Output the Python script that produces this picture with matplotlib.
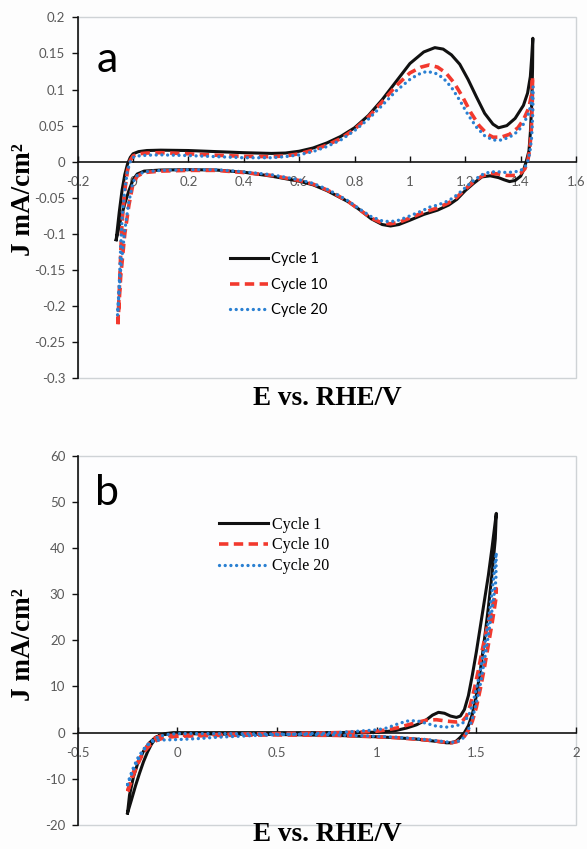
import matplotlib.pyplot as plt
from matplotlib.patches import Rectangle

# ---- panel a : CV in the low current range (mA/cm2) ----
a_e1 = [-0.061, -0.050, -0.040, -0.030, -0.020, -0.010, 0.0, 0.02, 0.05, 0.1, 0.2, 0.3, 0.4, 0.5,
        0.55, 0.6, 0.65, 0.7, 0.75, 0.8, 0.85, 0.9, 0.95, 1.0, 1.05, 1.09, 1.12, 1.15, 1.18, 1.21,
        1.24, 1.27, 1.30, 1.32, 1.35, 1.38, 1.41, 1.425, 1.435, 1.44, 1.444,
        1.443, 1.44, 1.435, 1.43, 1.42, 1.41, 1.40, 1.38, 1.36, 1.34, 1.32, 1.29, 1.26, 1.23, 1.2,
        1.17, 1.14, 1.1, 1.05, 1.0, 0.96, 0.93, 0.9, 0.86, 0.82, 0.78, 0.74, 0.7, 0.65, 0.6, 0.5,
        0.4, 0.3, 0.2, 0.1, 0.04, 0.015, 0.0, -0.015, -0.03, -0.045, -0.061]
a_j1 = [-0.108, -0.07, -0.04, -0.018, -0.003, 0.006, 0.011, 0.014, 0.0155, 0.016, 0.0155, 0.014,
        0.0125, 0.0115, 0.012, 0.0145, 0.019, 0.026, 0.035, 0.047, 0.064, 0.086, 0.111, 0.136,
        0.152, 0.158, 0.156, 0.148, 0.135, 0.114, 0.090, 0.067, 0.052, 0.047, 0.050, 0.060, 0.078,
        0.095, 0.118, 0.145, 0.171,
        0.13, 0.08, 0.04, 0.015, 0.0, -0.012, -0.02, -0.026, -0.0275, -0.025, -0.022, -0.0195,
        -0.021, -0.03, -0.04, -0.052, -0.06, -0.067, -0.073, -0.081, -0.087, -0.089, -0.087,
        -0.079, -0.067, -0.056, -0.048, -0.040, -0.032, -0.027, -0.02, -0.0145, -0.0115, -0.011,
        -0.0115, -0.013, -0.017, -0.025, -0.04, -0.058, -0.08, -0.108]

a_e10 = [-0.055, -0.05, -0.045, -0.04, -0.03, -0.02, -0.01, 0.0, 0.02, 0.05, 0.1, 0.2, 0.3, 0.4,
         0.5, 0.55, 0.6, 0.65, 0.7, 0.75, 0.8, 0.85, 0.9, 0.95, 1.0, 1.04, 1.07, 1.1, 1.13, 1.16,
         1.19, 1.22, 1.25, 1.28, 1.30, 1.33, 1.36, 1.39, 1.41, 1.43, 1.44, 1.443,
         1.442, 1.438, 1.432, 1.425, 1.415, 1.40, 1.38, 1.35, 1.32, 1.29, 1.26, 1.23, 1.2, 1.17,
         1.14, 1.1, 1.05, 1.0, 0.96, 0.93, 0.9, 0.86, 0.82, 0.78, 0.74, 0.7, 0.65, 0.6, 0.5, 0.4,
         0.3, 0.2, 0.1, 0.04, 0.015, 0.0, -0.015, -0.03, -0.045, -0.055]
a_j10 = [-0.225, -0.18, -0.13, -0.085, -0.04, -0.012, 0.002, 0.008, 0.011, 0.012, 0.0125, 0.011,
         0.009, 0.0075, 0.007, 0.008, 0.011, 0.016, 0.023, 0.032, 0.045, 0.062, 0.083, 0.105,
         0.123, 0.131, 0.134, 0.131, 0.123, 0.109, 0.090, 0.068, 0.050, 0.038, 0.034, 0.034,
         0.038, 0.047, 0.058, 0.075, 0.095, 0.118,
         0.08, 0.04, 0.015, 0.0, -0.01, -0.016, -0.019, -0.019, -0.017, -0.016, -0.02, -0.028,
         -0.038, -0.049, -0.057, -0.064, -0.07, -0.078, -0.084, -0.086, -0.085, -0.078, -0.067,
         -0.056, -0.047, -0.039, -0.031, -0.026, -0.019, -0.015, -0.012, -0.012, -0.013, -0.015,
         -0.02, -0.03, -0.06, -0.10, -0.16, -0.225]

a_e20 = [-0.056, -0.05, -0.045, -0.04, -0.03, -0.02, -0.01, 0.0, 0.02, 0.05, 0.1, 0.2, 0.3, 0.4,
         0.5, 0.55, 0.6, 0.65, 0.7, 0.75, 0.8, 0.85, 0.9, 0.95, 1.0, 1.03, 1.06, 1.09, 1.12, 1.15,
         1.18, 1.21, 1.24, 1.27, 1.30, 1.33, 1.36, 1.39, 1.41, 1.43, 1.44, 1.445,
         1.444, 1.44, 1.433, 1.425, 1.415, 1.40, 1.38, 1.35, 1.32, 1.29, 1.26, 1.23, 1.2, 1.17,
         1.14, 1.1, 1.07, 1.05, 1.0, 0.96, 0.93, 0.9, 0.86, 0.82, 0.78, 0.74, 0.7, 0.65, 0.6, 0.5,
         0.4, 0.3, 0.2, 0.1, 0.04, 0.015, 0.0, -0.015, -0.03, -0.045, -0.056]
a_j20 = [-0.212, -0.17, -0.12, -0.08, -0.038, -0.012, 0.0, 0.006, 0.008, 0.009, 0.0095, 0.0085,
         0.007, 0.0055, 0.0055, 0.007, 0.0095, 0.014, 0.021, 0.030, 0.043, 0.059, 0.078, 0.098,
         0.114, 0.121, 0.125, 0.123, 0.116, 0.103, 0.085, 0.065, 0.048, 0.036, 0.030, 0.030,
         0.034, 0.042, 0.052, 0.068, 0.085, 0.104,
         0.07, 0.035, 0.012, 0.0, -0.008, -0.012, -0.014, -0.015, -0.014, -0.014, -0.018, -0.026,
         -0.036, -0.046, -0.054, -0.06, -0.063, -0.067, -0.075, -0.081, -0.083, -0.082, -0.076,
         -0.066, -0.055, -0.046, -0.038, -0.030, -0.025, -0.018, -0.014, -0.011, -0.011, -0.012,
         -0.014, -0.019, -0.028, -0.055, -0.095, -0.15, -0.212]

# ---- panel b : full range including OER ----
b_e1 = [-0.25, -0.23, -0.21, -0.19, -0.17, -0.15, -0.13, -0.11, -0.09, -0.06, -0.02, 0.1, 0.3,
        0.5, 0.7, 0.9, 1.0, 1.05, 1.1, 1.15, 1.2, 1.25, 1.28, 1.31, 1.34, 1.37, 1.40, 1.42, 1.44,
        1.46, 1.48, 1.5, 1.52, 1.54, 1.56, 1.58, 1.60,
        1.595, 1.58, 1.56, 1.54, 1.52, 1.50, 1.48, 1.46, 1.44, 1.42, 1.40, 1.38, 1.35, 1.3, 1.2,
        1.1, 1.0, 0.8, 0.5, 0.2, 0.0, -0.05, -0.08, -0.11, -0.14, -0.17, -0.2, -0.22, -0.24, -0.25]
b_j1 = [-17.4, -14.5, -11.5, -8.8, -6.3, -4.2, -2.5, -1.3, -0.6, -0.2, 0.0, 0.0, 0.0, 0.0, 0.0,
        0.05, 0.1, 0.25, 0.5, 1.0, 1.7, 2.8, 3.8, 4.4, 4.2, 3.6, 3.3, 3.6, 5.0, 8.0, 12.5, 17.5,
        23.0, 28.5, 34.0, 40.5, 47.5,
        42.0, 35.0, 27.0, 20.0, 13.5, 8.0, 4.0, 1.5, 0.0, -1.0, -1.8, -2.2, -2.2, -1.9, -1.4, -1.1,
        -0.9, -0.6, -0.4, -0.3, -0.2, -0.3, -0.5, -1.0, -2.2, -4.0, -6.8, -9.5, -13.5, -17.4]

b_e10 = [-0.249, -0.23, -0.21, -0.19, -0.17, -0.15, -0.13, -0.11, -0.08, -0.04, 0.0, 0.1, 0.3,
         0.5, 0.7, 0.9, 1.0, 1.05, 1.1, 1.15, 1.2, 1.25, 1.3, 1.35, 1.40, 1.43, 1.45, 1.47, 1.49,
         1.51, 1.53, 1.55, 1.57, 1.59, 1.60,
         1.598, 1.58, 1.56, 1.54, 1.52, 1.50, 1.48, 1.46, 1.44, 1.42, 1.40, 1.37, 1.33, 1.25, 1.1,
         1.0, 0.8, 0.5, 0.2, 0.0, -0.05, -0.08, -0.11, -0.14, -0.17, -0.2, -0.22, -0.24, -0.249]
b_j10 = [-12.7, -10.3, -8.0, -6.0, -4.2, -2.8, -1.8, -1.1, -0.7, -0.6, -0.6, -0.5, -0.3, -0.2,
         -0.1, 0.1, 0.3, 0.6, 1.0, 1.6, 2.2, 2.7, 2.8, 2.5, 2.3, 2.5, 3.5, 6.0, 9.5, 13.5, 18.0,
         22.0, 25.5, 29.0, 31.2,
         29.0, 24.0, 19.0, 14.0, 9.5, 5.5, 2.5, 0.5, -0.8, -1.6, -2.0, -2.2, -2.0, -1.6, -1.1,
         -0.9, -0.6, -0.5, -0.6, -0.8, -1.0, -1.3, -1.8, -2.8, -4.3, -6.5, -8.5, -11.0, -12.7]

b_e20 = [-0.25, -0.23, -0.21, -0.19, -0.17, -0.15, -0.13, -0.11, -0.08, 0.0, 0.1, 0.2, 0.4, 0.6,
         0.8, 0.9, 1.0, 1.05, 1.1, 1.15, 1.2, 1.25, 1.3, 1.35, 1.40, 1.43, 1.46, 1.48, 1.50, 1.52,
         1.54, 1.56, 1.58, 1.60,
         1.598, 1.58, 1.56, 1.54, 1.52, 1.50, 1.48, 1.46, 1.44, 1.42, 1.40, 1.37, 1.33, 1.25, 1.1,
         1.0, 0.8, 0.5, 0.2, 0.0, -0.05, -0.08, -0.11, -0.14, -0.17, -0.2, -0.22, -0.24, -0.25]
b_j20 = [-11.3, -9.0, -7.0, -5.2, -3.8, -2.7, -2.0, -1.7, -1.6, -1.5, -1.3, -1.0, -0.6, -0.3,
         0.0, 0.3, 0.6, 1.0, 1.8, 2.5, 2.6, 2.0, 1.4, 1.2, 1.5, 2.0, 3.5, 6.0, 9.5, 13.5, 18.5,
         24.0, 31.0, 39.0,
         33.0, 27.0, 21.0, 15.5, 10.5, 6.5, 3.0, 0.6, -0.9, -1.7, -2.0, -2.1, -1.9, -1.5, -1.0,
         -0.8, -0.5, -0.3, -0.2, -0.2, -0.4, -0.7, -1.2, -2.2, -3.6, -5.6, -7.5, -9.8, -11.3]

labels = ['Cycle 1', 'Cycle 10', 'Cycle 20']
a_xticks = [-0.2, 0, 0.2, 0.4, 0.6, 0.8, 1, 1.2, 1.4, 1.6]
a_yticks = [0.2, 0.15, 0.1, 0.05, 0, -0.05, -0.1, -0.15, -0.2, -0.25, -0.3]
b_xticks = [-0.5, 0, 0.5, 1, 1.5, 2]
b_yticks = [60, 50, 40, 30, 20, 10, 0, -10, -20]

BLACK = '#111111'
RED = '#f2392e'
BLUE = '#2a80d2'
GRAY_TXT = '#595959'
FRAME = '#cfd3d6'
SANS = ['Lato', 'DejaVu Sans']
SERIF = ['Liberation Serif', 'DejaVu Serif']


def style_axes(ax, xticks, yticks):
    ax.set_xlim(xticks[0], xticks[-1])
    ax.set_ylim(yticks[-1], yticks[0])
    ax.set_xticks(xticks)
    ax.set_yticks(yticks)
    ax.set_xticklabels([f'{t:g}' for t in xticks])
    ax.set_yticklabels([f'{t:g}' for t in yticks])
    ax.set_facecolor('#fdfdfe')
    # light plot-area border, black axes lines like an Excel chart
    ax.add_patch(Rectangle((0, 0), 1, 1, transform=ax.transAxes, fill=False,
                           edgecolor=FRAME, lw=1.0, clip_on=False, zorder=0.5))
    for s in ['top', 'right']:
        ax.spines[s].set_visible(False)
    ax.spines['left'].set_color(BLACK)
    ax.spines['left'].set_linewidth(1.2)
    ax.spines['bottom'].set_position(('data', 0))
    ax.spines['bottom'].set_color(BLACK)
    ax.spines['bottom'].set_linewidth(1.2)
    ax.tick_params(axis='x', direction='in', length=4, width=1.0, color=BLACK,
                   pad=10, labelsize=9.5, labelcolor=GRAY_TXT)
    ax.tick_params(axis='y', direction='out', length=4, width=1.0, color=BLACK,
                   pad=5, labelsize=9.5, labelcolor=GRAY_TXT)
    for lab in ax.get_xticklabels() + ax.get_yticklabels():
        lab.set_family(SANS)


def draw_cycles(ax, data):
    (e1, j1), (e10, j10), (e20, j20) = data
    h1, = ax.plot(e1, j1, color=BLACK, lw=2.2, solid_joinstyle='round', zorder=3)
    h10, = ax.plot(e10, j10, color=RED, lw=2.6, dashes=(2.6, 1.5), zorder=4)
    h20, = ax.plot(e20, j20, color=BLUE, lw=2.4, dashes=(0.01, 1.7),
                   dash_capstyle='round', zorder=5)
    return [h1, h10, h20]


fig = plt.figure(figsize=(5.87, 8.49), dpi=100)
fig.patch.set_facecolor('#fdfdfd')

ax_a = fig.add_axes([0.1324, 0.5544, 0.8489, 0.4252])
style_axes(ax_a, a_xticks, a_yticks)
hs = draw_cycles(ax_a, [(a_e1, a_j1), (a_e10, a_j10), (a_e20, a_j20)])
fig.legend(hs, labels, loc='upper left', bbox_to_anchor=(0.392, 0.703),
           bbox_transform=fig.transFigure, frameon=False, borderpad=0, borderaxespad=0,
           handlelength=2.6, handletextpad=0.2, labelspacing=0.8,
           prop={'family': SANS, 'size': 10.5})

ax_b = fig.add_axes([0.1324, 0.0283, 0.8489, 0.4350])
style_axes(ax_b, b_xticks, b_yticks)
hs = draw_cycles(ax_b, [(b_e1, b_j1), (b_e10, b_j10), (b_e20, b_j20)])
fig.legend(hs, labels, loc='upper left', bbox_to_anchor=(0.373, 0.3915),
           bbox_transform=fig.transFigure, frameon=False, borderpad=0, borderaxespad=0,
           handlelength=3.1, handletextpad=0.2, labelspacing=0.3,
           prop={'family': SERIF, 'size': 11.5})

# panel letters
fig.text(97 / 587, 1 - 72 / 849, 'a', family=SANS, fontsize=31, va='baseline', ha='left')
fig.text(95 / 587, 1 - 505 / 849, 'b', family=SANS, fontsize=31, va='baseline', ha='left')

# axis titles
for ylab_c, xlab_base in [(200, 405), (645, 841)]:
    fig.text(24 / 587, 1 - ylab_c / 849, 'J mA/cm²', family=SERIF, fontsize=19.5,
             fontweight='bold', rotation=90, ha='center', va='center')
    fig.text(327 / 587, 1 - xlab_base / 849, 'E vs. RHE/V', family=SERIF, fontsize=19.5,
             fontweight='bold', ha='center', va='baseline')

fig.savefig('out.png', dpi=100, facecolor=fig.get_facecolor())
